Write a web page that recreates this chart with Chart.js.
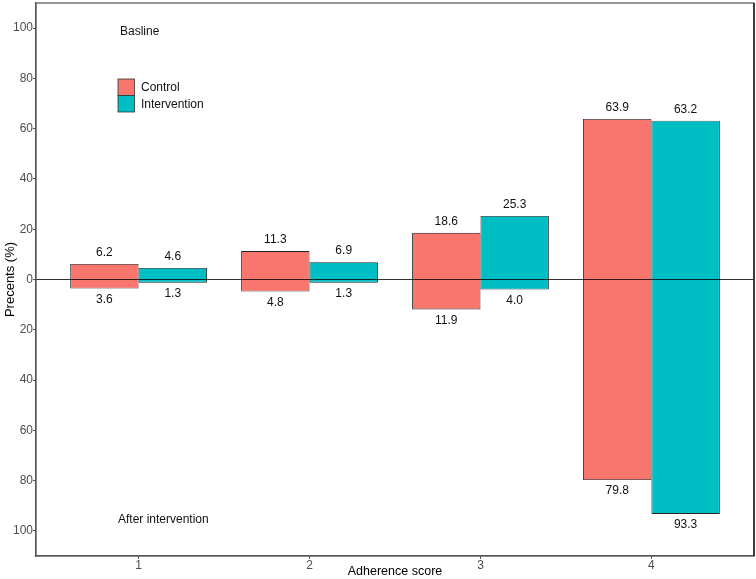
<!DOCTYPE html>
<html>
<head>
<meta charset="utf-8">
<script src="https://cdn.jsdelivr.net/npm/chart.js@4/dist/chart.umd.min.js"></script>
<style>
  html, body { margin: 0; padding: 0; background: #fff; }
  canvas { display: block; }
</style>
</head>
<body>
<canvas id="chart" width="756" height="579"></canvas>
<script>
// adherence score categories
const scores = [1, 2, 3, 4];

// baseline percents (drawn upward)
const controlBaseline = [6.2, 11.3, 18.6, 63.9];
const interventionBaseline = [4.6, 6.9, 25.3, 63.2];

// after intervention percents (drawn downward)
const controlAfter = [3.6, 4.8, 11.9, 79.8];
const interventionAfter = [1.3, 1.3, 4.0, 93.3];

const yTicks = [-100, -80, -60, -40, -20, 0, 20, 40, 60, 80, 100];

const FONT = '"Liberation Sans", Arial, sans-serif';
const CONTROL_COLOR = '#F8766D';
const INTERVENTION_COLOR = '#00BFC4';

function floating(base, after) {
  return scores.map((s, i) => ({ x: s, y: [-after[i], base[i]] }));
}

// zero line, frame, value labels, legend and panel notes
const decorPlugin = {
  id: 'decor',
  afterDatasetsDraw(chart) {
    const { ctx, chartArea: a, scales } = chart;
    const y = scales.y;
    ctx.save();

    // zero line
    const y0 = y.getPixelForValue(0);
    ctx.strokeStyle = '#000';
    ctx.lineWidth = 0.8;
    ctx.beginPath();
    ctx.moveTo(a.left, y0);
    ctx.lineTo(a.right, y0);
    ctx.stroke();

    // value labels above / below each bar
    ctx.font = '12px ' + FONT;
    ctx.fillStyle = '#111';
    ctx.textAlign = 'center';
    ctx.textBaseline = 'middle';
    const sets = [[controlBaseline, controlAfter], [interventionBaseline, interventionAfter]];
    sets.forEach((pair, d) => {
      const meta = chart.getDatasetMeta(d);
      meta.data.forEach((bar, i) => {
        ctx.fillText(pair[0][i].toFixed(1), bar.x, y.getPixelForValue(pair[0][i]) - 11);
        ctx.fillText(pair[1][i].toFixed(1), bar.x, y.getPixelForValue(-pair[1][i]) + 11);
      });
    });

    // panel notes
    ctx.textAlign = 'left';
    ctx.fillText('Basline', 120, 32);
    ctx.fillText('After intervention', 118, 520);

    // legend
    const items = [['Control', CONTROL_COLOR], ['Intervention', INTERVENTION_COLOR]];
    items.forEach((it, k) => {
      const top = 79 + k * 16.5;
      ctx.fillStyle = it[1];
      ctx.fillRect(118, top, 16.5, 16.5);
      ctx.strokeStyle = '#333';
      ctx.lineWidth = 0.8;
      ctx.strokeRect(118, top, 16.5, 16.5);
      ctx.fillStyle = '#111';
      ctx.fillText(it[0], 141, top + 9);
    });

    // panel frame
    ctx.strokeStyle = '#555';
    ctx.lineWidth = 1.2;
    ctx.strokeRect(a.left, a.top, a.right - a.left, a.bottom - a.top);
    ctx.strokeStyle = '#333';
    ctx.lineWidth = 1.8;
    ctx.beginPath();
    ctx.moveTo(a.right, a.top);
    ctx.lineTo(a.right, a.bottom);
    ctx.stroke();
    ctx.restore();
  }
};

new Chart(document.getElementById('chart'), {
  type: 'bar',
  data: {
    datasets: [
      {
        label: 'Control',
        data: floating(controlBaseline, controlAfter),
        backgroundColor: CONTROL_COLOR,
        borderColor: '#222',
        borderWidth: 0.9,
        borderSkipped: false
      },
      {
        label: 'Intervention',
        data: floating(interventionBaseline, interventionAfter),
        backgroundColor: INTERVENTION_COLOR,
        borderColor: '#222',
        borderWidth: 0.9,
        borderSkipped: false
      }
    ]
  },
  options: {
    responsive: false,
    animation: false,
    devicePixelRatio: 1,
    layout: { padding: { top: 3, right: 2, left: 0, bottom: 0 } },
    categoryPercentage: 0.8,
    barPercentage: 1.0,
    plugins: {
      legend: { display: false },
      tooltip: { enabled: false }
    },
    scales: {
      x: {
        type: 'linear',
        min: 0.4,
        max: 4.6,
        offset: false,
        afterBuildTicks: s => { s.ticks = scores.map(v => ({ value: v })); },
        afterFit: s => { s.height = 23; s.paddingLeft = 0; s.paddingRight = 0; },
        grid: { offset: false, drawOnChartArea: false, drawTicks: true, tickLength: 3, color: '#555' },
        border: { display: true, color: '#555', width: 1.2 },
        ticks: { color: '#4d4d4d', font: { family: FONT, size: 12 }, padding: -1 },
        title: {
          display: true,
          text: 'Adherence score',
          color: '#000',
          font: { family: FONT, size: 12.5 },
          padding: { top: 0, bottom: 0 }
        }
      },
      y: {
        min: -110,
        max: 110,
        afterBuildTicks: s => { s.ticks = yTicks.map(v => ({ value: v })); },
        afterFit: s => { s.width = 36; s.paddingTop = 0; s.paddingBottom = 0; },
        grid: { drawOnChartArea: false, drawTicks: true, tickLength: 3, color: '#555' },
        border: { display: true, color: '#555', width: 1.2 },
        ticks: {
          color: '#4d4d4d',
          font: { family: FONT, size: 12 },
          padding: 0,
          callback: v => Math.abs(v)
        },
        title: {
          display: true,
          text: 'Precents (%)',
          color: '#000',
          font: { family: FONT, size: 13 },
          padding: { top: 3, bottom: 0 }
        }
      }
    }
  },
  plugins: [decorPlugin]
});
</script>
</body>
</html>
